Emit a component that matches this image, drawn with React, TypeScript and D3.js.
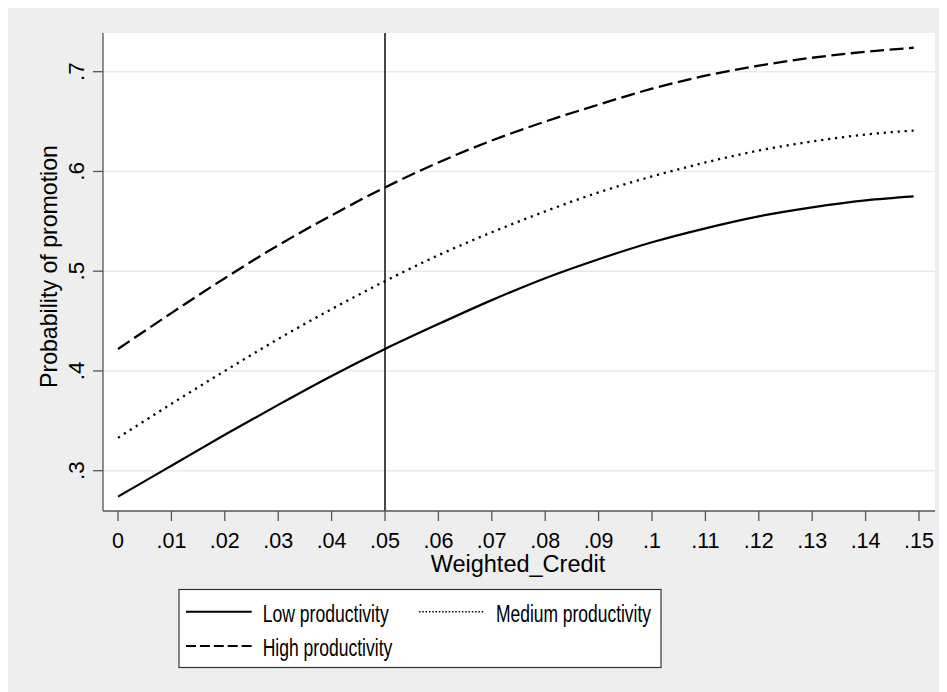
import React from "react";
import * as d3 from "d3";

const xValues = [0, 0.01, 0.02, 0.03, 0.04, 0.05, 0.06, 0.07, 0.08, 0.09, 0.1, 0.11, 0.12, 0.13, 0.14, 0.149];
const lowProductivity = [0.274, 0.305, 0.336, 0.366, 0.395, 0.422, 0.447, 0.471, 0.493, 0.512, 0.529, 0.543, 0.555, 0.564, 0.571, 0.575];
const mediumProductivity = [0.333, 0.367, 0.4, 0.432, 0.462, 0.49, 0.516, 0.539, 0.56, 0.579, 0.595, 0.609, 0.621, 0.63, 0.637, 0.641];
const highProductivity = [0.422, 0.458, 0.493, 0.526, 0.556, 0.584, 0.609, 0.631, 0.65, 0.667, 0.683, 0.696, 0.706, 0.714, 0.72, 0.724];

const xTicks = [0, 0.01, 0.02, 0.03, 0.04, 0.05, 0.06, 0.07, 0.08, 0.09, 0.1, 0.11, 0.12, 0.13, 0.14, 0.15];
const xTickLabels = ["0", ".01", ".02", ".03", ".04", ".05", ".06", ".07", ".08", ".09", ".1", ".11", ".12", ".13", ".14", ".15"];
const yTicks = [0.3, 0.4, 0.5, 0.6, 0.7];
const yTickLabels = [".3", ".4", ".5", ".6", ".7"];
const refLineX = 0.05;

const legendLabels = ["Low productivity", "Medium productivity", "High productivity"];

const W = 939;
const H = 684;
const FONT = "'Liberation Sans', Arial, Helvetica, sans-serif";

export default function App() {
  // svg placed at page (8,8); coordinates below are page coords minus 8
  const off = 8;
  const plotL = 103 - off, plotR = 935 - off, plotT = 33 - off, plotB = 511 - off;
  const x = d3.scaleLinear().domain([0, 0.15]).range([118 - off, 919 - off]);
  const y = d3.scaleLinear().domain([0.3, 0.7]).range([470.7 - off, 71.7 - off]);

  const line = d3
    .line<[number, number]>()
    .x((d) => x(d[0]))
    .y((d) => y(d[1]))
    .curve(d3.curveMonotoneX);

  const mk = (vals: number[]) => line(xValues.map((v, i) => [v, vals[i]] as [number, number])) || "";

  const axisColor = "#555";
  const gridColor = "#eaeaea";

  const legL = 179 - off, legR = 661 - off, legT = 589.5 - off, legB = 667.5 - off;
  const row1 = 611.7 - off, row2 = 646 - off;

  return (
    <>
      <style>{`html,body{overflow:hidden}`}</style>
      <svg width={W} height={H} style={{ display: "block" }} fontFamily={FONT}>
        <rect x={0} y={0} width={W} height={H} fill="#eeeeee" />
        <rect x={plotL} y={plotT} width={plotR - plotL} height={plotB - plotT} fill="#ffffff" />
        {yTicks.map((t) => (
          <line key={"g" + t} x1={plotL} x2={plotR} y1={y(t)} y2={y(t)} stroke={gridColor} strokeWidth={1.5} />
        ))}
        {/* reference line */}
        <line x1={x(refLineX)} x2={x(refLineX)} y1={plotT} y2={plotB} stroke="#333" strokeWidth={1.8} />
        {/* curves */}
        <path d={mk(lowProductivity)} fill="none" stroke="#000" strokeWidth={2.2} />
        <path d={mk(mediumProductivity)} fill="none" stroke="#000" strokeWidth={2.3} strokeDasharray="2.2 4.8" />
        <path d={mk(highProductivity)} fill="none" stroke="#000" strokeWidth={2.3} strokeDasharray="14 5.5" />
        {/* axes */}
        <line x1={plotL} x2={plotL} y1={plotT} y2={plotB} stroke={axisColor} strokeWidth={1.3} />
        <line x1={plotL} x2={plotR} y1={plotB} y2={plotB} stroke={axisColor} strokeWidth={1.5} />
        {xTicks.map((t, i) => (
          <g key={"x" + t}>
            <line x1={x(t)} x2={x(t)} y1={plotB} y2={plotB + 10} stroke={axisColor} strokeWidth={1.3} />
            <text x={x(t)} y={547.5 - off} textAnchor="middle" fontSize={21.5} fill="#000">
              {xTickLabels[i]}
            </text>
          </g>
        ))}
        {yTicks.map((t, i) => (
          <g key={"y" + t}>
            <line x1={plotL} x2={plotL - 10} y1={y(t)} y2={y(t)} stroke={axisColor} strokeWidth={1.3} />
            <text
              transform={`translate(${83.5 - off},${y(t)}) rotate(-90)`}
              textAnchor="middle"
              fontSize={22.5}
              fill="#000"
            >
              {yTickLabels[i]}
            </text>
          </g>
        ))}
        <text x={518 - off} y={572 - off} textAnchor="middle" fontSize={23.5} fill="#000">
          Weighted_Credit
        </text>
        <text
          transform={`translate(${57 - off},${266.5 - off}) rotate(-90)`}
          textAnchor="middle"
          fontSize={24}
          fill="#000"
          textLength={243}
          lengthAdjust="spacingAndGlyphs"
        >
          Probability of promotion
        </text>
        {/* legend */}
        <rect x={legL} y={legT} width={legR - legL} height={legB - legT} fill="#fff" stroke="#333" strokeWidth={1.2} />
        <line x1={186 - off} x2={251.7 - off} y1={row1} y2={row1} stroke="#000" strokeWidth={2} />
        <text x={262.7 - off} y={622.3 - off} fontSize={23.5} textLength={126} lengthAdjust="spacingAndGlyphs" fill="#000">
          {legendLabels[0]}
        </text>
        <line x1={419 - off} x2={484 - off} y1={row1} y2={row1} stroke="#000" strokeWidth={1.6} strokeDasharray="1.5 1.8" />
        <text x={496 - off} y={622.3 - off} fontSize={23.5} textLength={155} lengthAdjust="spacingAndGlyphs" fill="#000">
          {legendLabels[1]}
        </text>
        <line x1={186 - off} x2={251.7 - off} y1={row2} y2={row2} stroke="#000" strokeWidth={2} strokeDasharray="10 3.9" />
        <text x={262.7 - off} y={655.5 - off} fontSize={23.5} textLength={129.6} lengthAdjust="spacingAndGlyphs" fill="#000">
          {legendLabels[2]}
        </text>
      </svg>
    </>
  );
}
